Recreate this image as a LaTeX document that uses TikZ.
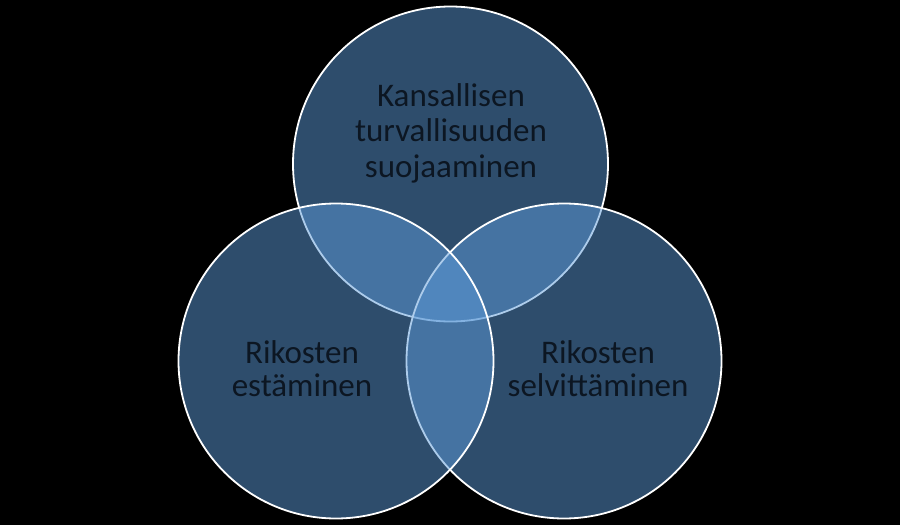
\documentclass[tikz,border=0pt]{standalone}
\usepackage{fontspec}
\setmainfont{Carlito}
\definecolor{vfill}{RGB}{92,154,216}
\definecolor{vtext}{RGB}{12,22,34}
\begin{document}
\begin{tikzpicture}[x=1pt,y=-1pt,
  circ/.style={circle, minimum size=315pt, inner sep=0pt, fill=vfill, fill opacity=0.5, draw=white, line width=1.8pt},
  lbl/.style={text=vtext, align=center, anchor=base, inner sep=0pt}]
\fill[black] (0,0) rectangle (900,525);
\node[circ] (top) at (450.5,164) {};
\node[circ] (right) at (564,361) {};
\node[circ] (left) at (336,361) {};
\node[lbl, font=\fontsize{33}{35.5}\selectfont] (ttop) at (451,177) {Kansallisen\\turvallisuuden\\suojaaminen};
\node[lbl, font=\fontsize{33}{33.5}\selectfont] (tleft) at (302,396.5) {Rikosten\\estäminen};
\node[lbl, font=\fontsize{33}{33.5}\selectfont] (tright) at (598,396.5) {Rikosten\\selvittäminen};
\end{tikzpicture}
\end{document}
